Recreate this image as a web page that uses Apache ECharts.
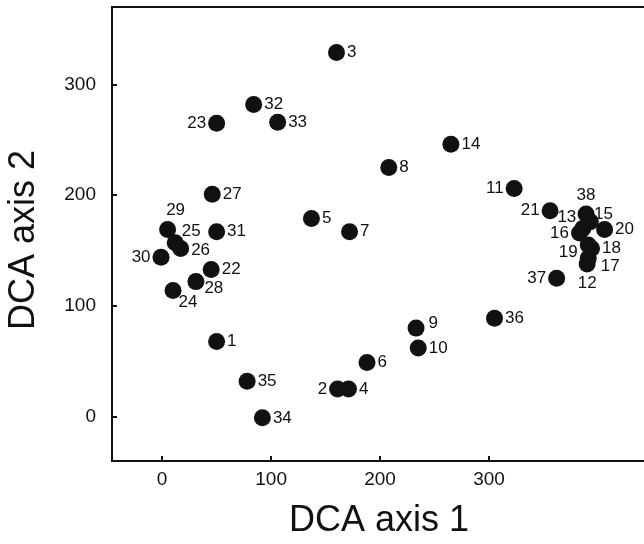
<!DOCTYPE html>
<html><head><meta charset="utf-8">
<script src="https://cdn.jsdelivr.net/npm/echarts@6/dist/echarts.min.js"></script>
<style>html,body{margin:0;padding:0;background:#fff}#c{width:644px;height:544px}</style>
</head><body><div id="c"></div>
<script>
// Sample ids and DCA scores
const ids   = ['1','2','3','4','5','6','7','8','9','10','11','12','13','14','15','16','17','18','19','20','21','22','23','24','25','26','27','28','29','30','31','32','33','34','35','36','37','38'];
const axis1 = [50,161,160,171,137,188,172,208,233,235,323,390,386,265,393,383,391,394,391,406,356,45,50,10,12,17,46,31,5,-1,50,84,106,92,78,305,362,389];
const axis2 = [68,25,329,25,179,49,167,225,80,62,206,138,170,246,176,166,143,152,155,169,186,133,265,114,157,152,201,122,169,144,167,282,266,-1,32,89,125,183];
const yTicks = [0,100,200,300];
const xTicks = [0,100,200,300];

// label placement (style)
const labelPos = {
  '2':'left','23':'left','11':'left','21':'left','30':'left','37':'left','16':'left',
  '19':['left',[0,7]],'13':['left',[4,-11]],'38':'top','29':['top',[8,0]],'12':'bottom',
  '24':['right',[-5,12]],'28':['right',[-2,7]],'17':['right',[2,8]],
  '25':['right',[-4,-12]],'15':['right',[-7,-8]],'9':['right',[2,-5]],'26':['right',[0,2]]
};
const labelShift = ids.map(id=>{
  const p = labelPos[id];
  return Array.isArray(p) ? p[1] : [0,0];
});

const data = ids.map((id,i)=>{
  const p = labelPos[id] || 'right';
  return {value:[axis1[i],axis2[i]], name:id, label:{position:Array.isArray(p)?p[0]:p}};
});

const chart = echarts.init(document.getElementById('c'), null, {renderer:'canvas'});
const axisLineStyle = {show:true, onZero:false, lineStyle:{color:'#111', width:2}};
chart.setOption({
  animation:false,
  grid:{left:112, top:7, right:-2, bottom:83, show:true, borderColor:'#111', borderWidth:2, outerBoundsMode:'none', containLabel:false},
  xAxis:{type:'value', min:-46, max:444,
    name:'DCA axis 1', nameLocation:'middle', nameGap:42,
    nameTextStyle:{fontFamily:'Liberation Sans', fontSize:36, color:'#111'},
    axisLine:axisLineStyle,
    splitLine:{show:false},
    axisTick:{show:true, inside:true, length:5, lineStyle:{color:'#111', width:2}, customValues:xTicks},
    axisLabel:{fontFamily:'Liberation Sans', fontSize:19, color:'#111', margin:9, customValues:xTicks}
  },
  yAxis:{type:'value', min:-40, max:370,
    name:'DCA axis 2', nameLocation:'middle', nameGap:70,
    nameTextStyle:{fontFamily:'Liberation Sans', fontSize:36, color:'#111', padding:[0,12,0,0]},
    axisLine:axisLineStyle,
    splitLine:{show:false},
    axisTick:{show:true, inside:true, length:5, lineStyle:{color:'#111', width:2}, customValues:yTicks},
    axisLabel:{fontFamily:'Liberation Sans', fontSize:19, color:'#111', margin:16, customValues:yTicks}
  },
  series:[{
    type:'scatter', symbol:'circle', symbolSize:17, z:2,
    itemStyle:{color:'#111', opacity:1},
    labelLayout:function(params){
      const s = labelShift[params.dataIndex];
      return {dx:s[0], dy:s[1], hideOverlap:false};
    },
    label:{show:true, formatter:p=>p.name, fontFamily:'Liberation Sans', fontSize:17, color:'#111', distance:2},
    data:data
  }]
});
</script></body></html>
